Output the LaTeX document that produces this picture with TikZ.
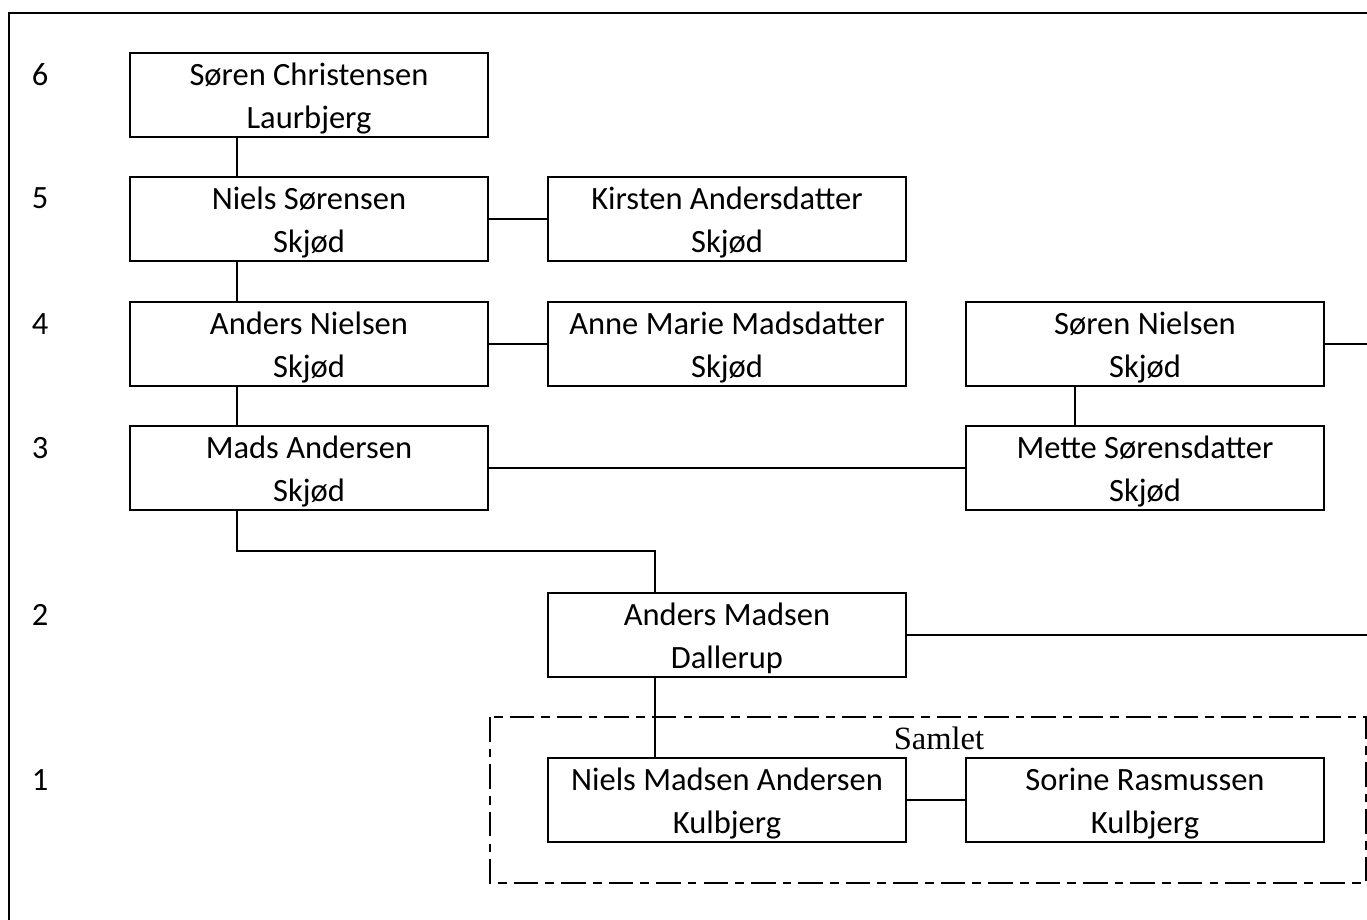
\documentclass[tikz,border=0pt]{standalone}
\usepackage{fontspec}
\setmainfont{Carlito}
\newfontfamily\samletfont{Liberation Serif}
\tikzset{
  person/.style={draw, line width=0.9pt, minimum width=7.16cm, minimum height=1.68cm, inner sep=0pt, align=center, font=\fontsize{18.5}{24.4}\selectfont, text height=40pt, text depth=1.6pt},
  gen/.style={font=\fontsize{18.5}{21}\selectfont},
  link/.style={line width=0.9pt},
  samlet/.style={line width=0.9pt, dash pattern=on 14pt off 4pt on 5pt off 4pt}
}
\begin{document}
\begin{tikzpicture}[x=0.02cm, y=-0.02cm]
\useasboundingbox (0,0) rectangle (1367,920);
\draw[line width=1.1pt] (9,920) -- (9,13) -- (1367,13);

\node[gen] (g6) at (40,75) {6};
\node[gen] (g5) at (40,198) {5};
\node[gen] (g4) at (40,324) {4};
\node[gen] (g3) at (40,448) {3};
\node[gen] (g2) at (40,615) {2};
\node[gen] (g1) at (40,780) {1};

\node[person] (sc) at (309,95) {Søren Christensen\\Laurbjerg};
\node[person] (ns) at (309,219) {Niels Sørensen\\Skjød};
\node[person] (ka) at (727,219) {Kirsten Andersdatter\\Skjød};
\node[person] (an) at (309,344) {Anders Nielsen\\Skjød};
\node[person] (amm) at (727,344) {Anne Marie Madsdatter\\Skjød};
\node[person] (sn) at (1145,344) {Søren Nielsen\\Skjød};
\node[person] (ma) at (309,468) {Mads Andersen\\Skjød};
\node[person] (ms) at (1145,468) {Mette Sørensdatter\\Skjød};
\node[person] (amd) at (727,635) {Anders Madsen\\Dallerup};
\node[person] (nma) at (727,800) {Niels Madsen Andersen\\Kulbjerg};
\node[person] (sr) at (1145,800) {Sorine Rasmussen\\Kulbjerg};

\coordinate (snr) at (1367,344);
\coordinate (amdr) at (1367,635);

\draw[samlet] (490,717) rectangle (1366,883);
\node[font=\samletfont\fontsize{18.5}{20}\selectfont] (samletlbl) at (939,738) {Samlet};

\draw[link] ([xshift=-1.44cm]sc.south) -- ([xshift=-1.44cm]ns.north);
\draw[link] (ns.east) -- (ka.west);
\draw[link] ([xshift=-1.44cm]ns.south) -- ([xshift=-1.44cm]an.north);
\draw[link] (an.east) -- (amm.west);
\draw[link] ([xshift=-1.44cm]an.south) -- ([xshift=-1.44cm]ma.north);
\draw[link] (sn.east) -- (snr);
\draw[link] ([xshift=-1.4cm]sn.south) -- ([xshift=-1.4cm]ms.north);
\draw[link] (ma.east) -- (ms.west);
\draw[link] ([xshift=-1.44cm]ma.south) -- ++(0,40) -| ([xshift=-1.44cm]amd.north);
\draw[link] (amd.east) -- (amdr);
\draw[link] ([xshift=-1.44cm]amd.south) -- ([xshift=-1.44cm]nma.north);
\draw[link] (nma.east) -- (sr.west);
\end{tikzpicture}
\end{document}
